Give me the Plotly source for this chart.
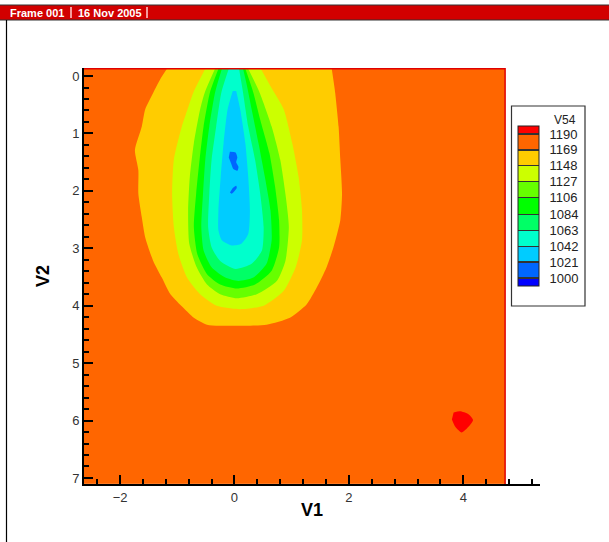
import plotly.graph_objects as go

# ---------------- data ----------------
# contour levels shown in the legend, and band colours (low -> high)
levels = [1000, 1021, 1042, 1063, 1084, 1106, 1127, 1148, 1169, 1190]
level_labels = ["1000", "1021", "1042", "1063", "1084", "1106", "1127", "1148", "1169", "1190"]
band_colors = ["#0000FF", "#0066FF", "#00CCFF", "#00FFCC", "#00FF66", "#00FF00",
               "#66FF00", "#CCFF00", "#FFCC00", "#FF6600", "#FF0000"]
level_step = 21.11

# extent of the data zone and its (ambient) value
domain_x = [-2.63, 4.73]
domain_y = [-0.125, 7.105]
ambient_v54 = 1180

# band outlines (left side top->bottom, then right side bottom->top)
gold_x = [-1.18, -1.30, -1.42, -1.56, -1.62, -1.74, -1.68, -1.68, -1.62, -1.56, -1.42, -1.27,
          -1.12, -0.89, -0.71, -0.48, 0.00, 0.56, 0.97, 1.26, 1.44, 1.61, 1.73, 1.85, 1.88,
          1.85, 1.82, 1.76, 1.70]
gold_y = [-0.125, 0.06, 0.29, 0.58, 0.88, 1.29, 1.64, 2.05, 2.46, 2.81, 3.22, 3.51, 3.80, 4.04,
          4.21, 4.33, 4.35, 4.33, 4.21, 3.98, 3.68, 3.33, 2.98, 2.51, 2.05, 1.46, 0.88, 0.29,
          -0.125]

ygreen_x = [-0.51, -0.72, -0.82, -0.92, -1.06, -1.09, -1.06, -0.98, -0.83, -0.60, -0.31, 0.10,
            0.51, 0.86, 1.07, 1.18, 1.18, 1.12, 1.01, 0.86, 0.63, 0.46]
ygreen_y = [-0.125, 0.29, 0.58, 0.88, 1.46, 2.05, 2.63, 3.10, 3.51, 3.80, 4.00, 4.06,
            4.00, 3.74, 3.33, 2.86, 2.34, 1.75, 1.17, 0.58, 0.18, -0.125]

lgreen_x = [-0.34, -0.52, -0.60, -0.71, -0.78, -0.81, -0.79, -0.66, -0.48, -0.25, 0.04,
            0.39, 0.74, 0.89, 0.95, 0.89, 0.80, 0.65, 0.44, 0.24]
lgreen_y = [-0.125, 0.29, 0.58, 1.17, 1.75, 2.34, 2.92, 3.33, 3.63, 3.80, 3.87,
            3.80, 3.57, 3.22, 2.63, 2.05, 1.46, 0.88, 0.29, -0.125]

green_x = [-0.28, -0.43, -0.54, -0.61, -0.67, -0.71, -0.65, -0.48, -0.25, 0.04,
           0.36, 0.65, 0.78, 0.78, 0.71, 0.61, 0.45, 0.33, 0.19]
green_y = [-0.125, 0.29, 0.88, 1.46, 2.05, 2.63, 3.10, 3.45, 3.63, 3.70,
           3.63, 3.39, 2.98, 2.51, 1.93, 1.34, 0.76, 0.29, -0.125]

sgreen_x = [-0.22, -0.34, -0.44, -0.51, -0.55, -0.58, -0.54, -0.40, -0.16, 0.07,
            0.33, 0.56, 0.65, 0.63, 0.53, 0.42, 0.30, 0.22, 0.15]
sgreen_y = [-0.125, 0.29, 0.88, 1.46, 2.05, 2.63, 3.04, 3.33, 3.51, 3.57,
            3.51, 3.27, 2.86, 2.34, 1.75, 1.17, 0.58, 0.18, -0.125]

aqua_x = [-0.10, -0.23, -0.32, -0.40, -0.44, -0.46, -0.40, -0.25, 0.02,
          0.30, 0.48, 0.51, 0.45, 0.36, 0.24, 0.15, 0.08]
aqua_y = [-0.125, 0.29, 0.88, 1.46, 2.05, 2.63, 2.98, 3.22, 3.36,
          3.27, 3.04, 2.63, 2.05, 1.46, 0.88, 0.29, -0.125]

sky_x = [-0.03, -0.12, -0.19, -0.24, -0.28, -0.28, -0.22, -0.05,
         0.12, 0.24, 0.27, 0.24, 0.19, 0.10, 0.03]
sky_y = [0.26, 0.58, 1.17, 1.75, 2.34, 2.69, 2.86, 2.95,
         2.92, 2.75, 2.34, 1.75, 1.17, 0.58, 0.26]

blue1_x = [-0.08, 0.02, 0.05, 0.03, 0.07, 0.05, -0.02, -0.06, -0.10]
blue1_y = [1.32, 1.33, 1.42, 1.50, 1.58, 1.65, 1.62, 1.52, 1.42]
blue2_x = [-0.08, -0.05, 0.04, 0.03, -0.03]
blue2_y = [2.03, 2.05, 1.95, 1.91, 1.95]

red_x = [3.83, 3.94, 4.09, 4.17, 4.09, 3.97, 3.86, 3.80]
red_y = [5.86, 5.84, 5.89, 5.99, 6.11, 6.21, 6.11, 5.98]

x_ticks = [-2, 0, 2, 4]
y_ticks = [0, 1, 2, 3, 4, 5, 6, 7]

# ---------------- layout geometry (pixels) ----------------
W, H = 609, 542
ML, MR, MT, MB = 84, 69, 68, 58
PW, PH = W - ML - MR, H - MT - MB


def px_x(p):
    return (p - ML) / PW


def px_y(p):
    return (H - MB - p) / PH


FONT = "Liberation Sans, Arial, sans-serif"

# discrete colour scale with thin dark separators between bands
zmin = levels[0] - level_step / 2
zmax = levels[-1] + level_step / 2
span = zmax - zmin
cs = []
eps = 0.004
bounds = [(lv - zmin) / span for lv in levels]
cs.append([0.0, band_colors[0]])
for k, b in enumerate(bounds):
    cs.append([b - eps, band_colors[k]])
    cs.append([b - eps, "#333333"])
    cs.append([b + eps, "#333333"])
    cs.append([b + eps, band_colors[k + 1]])
cs.append([1.0, band_colors[-1]])

fig = go.Figure()

fig.add_trace(go.Heatmap(
    x=domain_x, y=domain_y, z=[[ambient_v54]],
    zmin=zmin, zmax=zmax, colorscale=cs, hoverinfo="skip",
    colorbar=dict(
        x=px_x(518), xanchor="left", xpad=0,
        y=px_y(206), yanchor="middle", ypad=0,
        len=160, lenmode="pixels", thickness=21, thicknessmode="pixels",
        outlinewidth=1, outlinecolor="#222",
        tickmode="array", tickvals=levels, ticktext=level_labels,
        ticks="outside", ticklen=8, tickcolor="rgba(0,0,0,0)",
        tickfont=dict(family=FONT, size=13, color="#222"),
        borderwidth=0,
    ),
))

bands = [
    (gold_x, gold_y, band_colors[8]),
    (ygreen_x, ygreen_y, band_colors[7]),
    (lgreen_x, lgreen_y, band_colors[6]),
    (green_x, green_y, band_colors[5]),
    (sgreen_x, sgreen_y, band_colors[4]),
    (aqua_x, aqua_y, band_colors[3]),
    (sky_x, sky_y, band_colors[2]),
    (blue1_x, blue1_y, band_colors[1]),
    (blue2_x, blue2_y, band_colors[1]),
    (red_x, red_y, band_colors[10]),
]
for bx, by, col in bands:
    fig.add_trace(go.Scatter(
        x=bx, y=by, mode="lines", fill="toself", fillcolor=col,
        line=dict(width=0, color=col, shape="spline", smoothing=0.6),
        hoverinfo="skip", showlegend=False,
    ))

# red zone border on top and right edges
fig.add_trace(go.Scatter(
    x=[domain_x[0], domain_x[1], domain_x[1]],
    y=[domain_y[0], domain_y[0], domain_y[1]],
    mode="lines", line=dict(color="#E00000", width=1.5),
    hoverinfo="skip", showlegend=False,
))

axis_common = dict(
    showgrid=False, zeroline=False, showline=True, linecolor="black", linewidth=2,
    ticks="inside", ticklen=9, tickwidth=2, tickcolor="black",
    tickfont=dict(family=FONT, size=13, color="#333"),
    title_font=dict(family=FONT, size=18, color="black", weight="bold"),
    mirror=False,
)

fig.update_xaxes(
    range=[-2.63, 5.34], tickvals=x_ticks, title_text="V1", title_standoff=0,
    minor=dict(ticks="inside", ticklen=5, tickwidth=1.5, tickcolor="black", dtick=0.4, tick0=0),
    **axis_common,
)
fig.update_yaxes(
    range=[7.105, -0.14], tickvals=y_ticks, title_text="V2", title_standoff=18,
    minor=dict(ticks="inside", ticklen=5, tickwidth=1.5, tickcolor="black", dtick=0.2, tick0=0),
    **axis_common,
)

shapes = [
    # header bar
    dict(type="rect", xref="paper", yref="paper", x0=px_x(-5), x1=px_x(W + 5),
         y0=px_y(20), y1=px_y(5), fillcolor="#D20000", line=dict(color="#333", width=1),
         layer="above"),
    dict(type="line", xref="paper", yref="paper", x0=px_x(71), x1=px_x(71),
         y0=px_y(18), y1=px_y(7), line=dict(color="#FFD0D0", width=1.5), layer="above"),
    dict(type="line", xref="paper", yref="paper", x0=px_x(147), x1=px_x(147),
         y0=px_y(18), y1=px_y(7), line=dict(color="#FFD0D0", width=1.5), layer="above"),
    # frame line at the left
    dict(type="line", xref="paper", yref="paper", x0=px_x(6.5), x1=px_x(6.5),
         y0=px_y(H + 2), y1=px_y(20), line=dict(color="black", width=1.2), layer="above"),
    # legend box
    dict(type="rect", xref="paper", yref="paper", x0=px_x(511.5), x1=px_x(585),
         y0=px_y(306), y1=px_y(106), line=dict(color="#333", width=1.2),
         fillcolor="rgba(0,0,0,0)", layer="above"),
]

annotations = [
    dict(text="<b>Frame 001</b>", x=px_x(8), y=px_y(12.5), xref="paper", yref="paper",
         xanchor="left", yanchor="middle", showarrow=False,
         font=dict(family=FONT, size=11, color="white")),
    dict(text="<b>16 Nov 2005</b>", x=px_x(76), y=px_y(12.5), xref="paper", yref="paper",
         xanchor="left", yanchor="middle", showarrow=False,
         font=dict(family=FONT, size=11, color="white")),
    dict(text="V54", x=px_x(565), y=px_y(120), xref="paper", yref="paper",
         xanchor="center", yanchor="middle", showarrow=False,
         font=dict(family=FONT, size=12, color="#222")),
]

fig.update_layout(
    width=W, height=H,
    margin=dict(l=ML, r=MR, t=MT, b=MB, autoexpand=False),
    paper_bgcolor="white", plot_bgcolor="white",
    showlegend=False,
    shapes=shapes, annotations=annotations,
)

fig.write_html(
    "out.html",
    config={"displayModeBar": False},
    post_script="document.body.style.margin='0';document.body.style.overflow='hidden';",
)
